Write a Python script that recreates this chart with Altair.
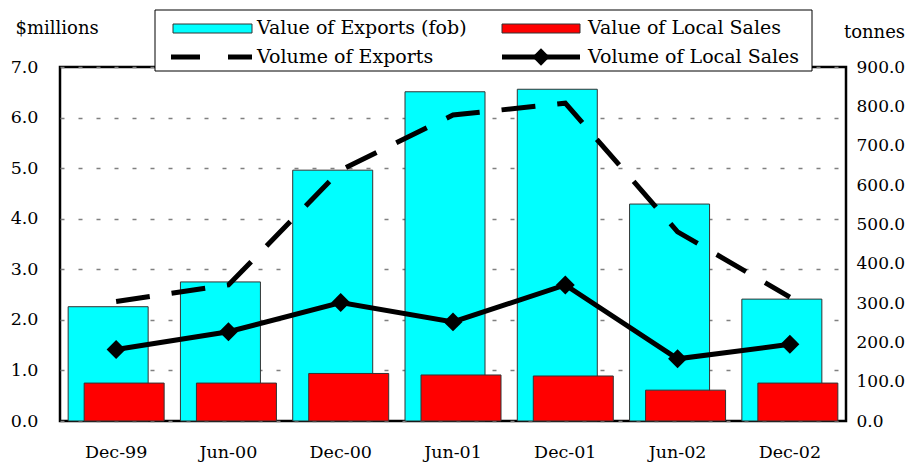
import altair as alt
import pandas as pd

periods = ["Dec-99", "Jun-00", "Dec-00", "Jun-01", "Dec-01", "Jun-02", "Dec-02"]
exports_value = [2.26, 2.75, 4.96, 6.51, 6.56, 4.29, 2.41]
local_value = [0.75, 0.75, 0.94, 0.91, 0.89, 0.61, 0.75]
exports_volume = [304, 346, 638, 778, 808, 481, 315]
local_volume = [182, 227, 301, 252, 346, 158, 195]

left_ticks = [0, 1, 2, 3, 4, 5, 6, 7]
right_ticks = [0, 100, 200, 300, 400, 500, 600, 700, 800, 900]

df = pd.DataFrame({
    "period": periods,
    "exports_value": exports_value,
    "local_value": local_value,
    "exports_volume": exports_volume,
    "local_volume": local_volume,
})

FONT = "DejaVu Serif"
W, H = 786, 354

x_enc = alt.X(
    "period:N", sort=periods,
    scale=alt.Scale(paddingInner=0, paddingOuter=0),
    axis=alt.Axis(title=None, labelAngle=0, ticks=False, domain=False,
                  labelPadding=22, labelFontSize=17.5, labelFont=FONT,
                  labelColor="black", grid=False),
)

left_axis = alt.Axis(orient="left", values=left_ticks, format=".1f",
                     title="$millions", titleAngle=0, titleX=-45, titleY=-39,
                     titleAlign="left", titleBaseline="middle",
                     titleFontSize=18, titleFontWeight="normal", titleFont=FONT,
                     titleColor="black",
                     labelFont=FONT, labelFontSize=17.5, labelColor="black",
                     labelPadding=22, ticks=False, domain=False,
                     grid=True, gridColor="#808080", gridDash=[4, 14], gridWidth=1.5,
                     gridOpacity=1)

right_axis = alt.Axis(orient="right", values=right_ticks, format=".1f",
                      title="tonnes", titleAngle=0, titleX=28, titleY=-35,
                      titleAlign="center", titleBaseline="middle",
                      titleFontSize=18, titleFontWeight="normal", titleFont=FONT,
                      titleColor="black",
                      labelFont=FONT, labelFontSize=17, labelColor="black",
                      labelPadding=10, ticks=False, domain=False, grid=False)

left_scale = alt.Scale(domain=[0, 7], nice=False, zero=True)
right_scale = alt.Scale(domain=[0, 900], nice=False, zero=True)

base = alt.Chart(df)

cyan = base.mark_bar(width=80, xOffset=-8, color="#00FFFF", stroke="#333333", strokeWidth=1).encode(
    x=x_enc,
    y=alt.Y("exports_value:Q", scale=left_scale, axis=left_axis),
)

red = base.mark_bar(width=80, xOffset=8, color="#FF0000", stroke="#333333", strokeWidth=1).encode(
    x=x_enc,
    y=alt.Y("local_value:Q", scale=left_scale, axis=left_axis),
)

bars = alt.layer(cyan, red)

dashed = base.mark_line(color="black", strokeWidth=5, strokeDash=[34, 22]).encode(
    x=x_enc,
    y=alt.Y("exports_volume:Q", scale=right_scale, axis=right_axis),
)

solid = base.mark_line(color="black", strokeWidth=5).encode(
    x=x_enc,
    y=alt.Y("local_volume:Q", scale=right_scale, axis=right_axis),
)

diamonds = base.mark_point(shape="diamond", filled=True, color="black", size=360, opacity=1).encode(
    x=x_enc,
    y=alt.Y("local_volume:Q", scale=right_scale, axis=right_axis),
)

lines = alt.layer(dashed, solid, diamonds)

# legend
one = alt.Chart(pd.DataFrame({"k": [0]}))
leg_box = one.mark_rect(fill="white", stroke="black", strokeWidth=1).encode(
    x=alt.value(95), x2=alt.value(752), y=alt.value(-57), y2=alt.value(4))
sw_cyan = one.mark_rect(fill="#00FFFF", stroke="#333333", strokeWidth=1).encode(
    x=alt.value(113), x2=alt.value(192), y=alt.value(-43), y2=alt.value(-34))
sw_red = one.mark_rect(fill="#FF0000", stroke="#333333", strokeWidth=1).encode(
    x=alt.value(442), x2=alt.value(520), y=alt.value(-43), y2=alt.value(-34))
sw_dash = one.mark_rule(color="black", strokeWidth=5, strokeDash=[29, 28]).encode(
    x=alt.value(111), x2=alt.value(192), y=alt.value(-10))
sw_solid = one.mark_rule(color="black", strokeWidth=5).encode(
    x=alt.value(442), x2=alt.value(520), y=alt.value(-10))
sw_diam = one.mark_point(shape="diamond", filled=True, color="black", size=300, opacity=1).encode(
    x=alt.value(481), y=alt.value(-10))


def leg_text(t, x, y):
    return one.mark_text(align="left", baseline="middle", font=FONT, fontSize=19, color="black").encode(
        x=alt.value(x), y=alt.value(y), text=alt.value(t))


legend = [
    leg_box, sw_cyan, sw_red, sw_dash, sw_solid, sw_diam,
    leg_text("Value of Exports (fob)", 197, -39),
    leg_text("Value of Local Sales", 528, -39),
    leg_text("Volume of Exports", 197, -10),
    leg_text("Volume of Local Sales", 528, -10),
]

chart = alt.layer(bars, lines, *legend).resolve_scale(y="independent").properties(
    width=W, height=H,
    autosize=alt.AutoSizeParams(type="none"),
    padding={"left": 52, "top": 59, "right": 60, "bottom": 44},
    background="white",
).configure_view(stroke="black", strokeWidth=2.5)

chart.save("out.html", embed_options={"renderer": "svg", "actions": False})
